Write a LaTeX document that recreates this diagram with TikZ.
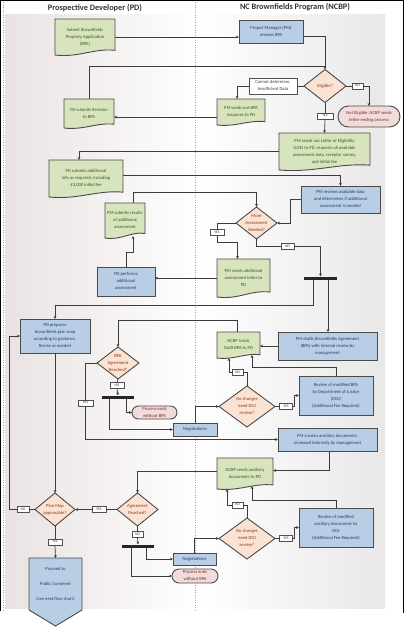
\documentclass[tikz,border=0pt]{standalone}
\usepackage{fontspec}
\setmainfont{Carlito}
\usetikzlibrary{shapes.geometric,shapes.misc,arrows.meta,calc}
\pgfdeclarelayer{bglayer}
\pgfdeclarelayer{shplayer}
\pgfsetlayers{bglayer,shplayer,main}
\definecolor{bordc}{HTML}{4A4A4A}
\definecolor{connc}{HTML}{3C3C3C}
\definecolor{greenf}{HTML}{D7E4BD}
\definecolor{bluef}{HTML}{B9CDE5}
\definecolor{peachf}{HTML}{FBE3D3}
\definecolor{pinkf}{HTML}{F2DCDB}
\definecolor{greent}{HTML}{3A5A1C}
\definecolor{bluet}{HTML}{1F3F6F}
\definecolor{diamt}{HTML}{8A3A1A}
\definecolor{pinkt}{HTML}{7A2A2A}
\definecolor{lblc}{HTML}{505050}
\definecolor{lanel}{HTML}{EAE2E2}
\definecolor{laner}{HTML}{E8E8E8}
\newcommand{\zt}[1]{\makebox[0pt]{\raisebox{-1pt}[0pt][0pt]{\begin{tabular}{@{}c@{}}#1\end{tabular}}}}
\tikzset{
 base/.style={inner sep=0pt, outer sep=0pt, font=\fontsize{4.6}{7}\selectfont},
 bluebox/.style={base, rectangle, draw=bordc, line width=0.9pt, fill=bluef, text=bluet},
 docbox/.style={base, rectangle, text=greent},
 diam/.style={base, diamond, draw=bordc, line width=0.9pt, fill=peachf, text=diamt},
 endbox/.style={base, rounded rectangle, draw=bordc, line width=0.9pt, fill=pinkf, text=pinkt},
 lbl/.style={base, rectangle, draw=lblc, line width=0.5pt, fill=white, text=black!75, font=\fontsize{3.8}{4}\selectfont},
 syncbar/.style={rectangle, fill=black!85, inner sep=0pt, outer sep=0pt, minimum height=3pt},
 conn/.style={draw=connc, line width=0.7pt},
 arr/.style={conn, -{Stealth[length=3pt,width=2.8pt]}},
 docshape/.style={draw=bordc, line width=0.9pt, fill=greenf},
 hdr/.style={inner sep=0pt, font=\bfseries\fontsize{8.3}{10}\selectfont, text=black!80},
}
\newcommand{\docshp}[1]{%
 \path[docshape] let \p1=(#1.south west), \p2=(#1.north east), \n1={\x2-\x1}, \n2={0.13*(\y2-\y1)} in
 (\x1,\y2) -- (\x2,\y2) -- (\x2,\y1+\n2) .. controls (\x2-0.35*\n1,\y1+1.5*\n2) and (\x1+0.4*\n1,\y1-0.6*\n2) .. (\x1,\y1) -- cycle;}
\begin{document}
\begin{tikzpicture}[x=1pt,y=-1pt]
\useasboundingbox (0,0) rectangle (406,627);
\begin{pgfonlayer}{bglayer}
\fill[white] (0,0) rectangle (406,627);
\shade[left color=lanel, right color=white!97!lanel] (5,14) rectangle (195,608);
\shade[left color=white, right color=laner] (195,14) rectangle (385,608);
\draw[gray!70, line width=0.6pt, dash pattern=on 1pt off 1.5pt] (3,2) -- (3,610);
\draw[gray!70, line width=0.6pt, dash pattern=on 1pt off 1.5pt] (195,2) -- (195,610);
\draw[black, line width=1pt] (0.5,611) -- (0.5,0.5) -- (403.5,0.5) -- (403.5,613);
\end{pgfonlayer}

\node[hdr] (hpd) at (95,8) {Prospective Developer (PD)};
\node[hdr] (hncbp) at (295,7.5) {NC Brownfields Program (NCBP)};

% nodes
\node[docbox, minimum width=60pt, minimum height=36pt] (submit) at (85,37) {\zt{Submit Brownfields\\Property Application\\(BPA)}};
\node[bluebox, minimum width=64pt, minimum height=23pt] (pmrev) at (271,31.5) {\zt{Project Manager (PM)\\reviews BPA}};
\node[diam, minimum width=42pt, minimum height=33pt] (elig) at (325,86) {\zt{Eligible?}};
\node[lbl, minimum width=48pt, minimum height=16pt, font=\fontsize{4.6}{7}\selectfont] (cannot) at (273,86) {\zt{Cannot determine,\\Insufficient Data}};
\node[docbox, minimum width=48pt, minimum height=26pt] (bparesp) at (241,112) {\zt{PM sends out BPA\\response to PD}};
\node[docbox, minimum width=50pt, minimum height=29pt] (revision) at (89,113.5) {\zt{PD submits Revision\\to BPA}};
\node[lbl, minimum width=11pt, minimum height=6pt] (noelig) at (357.5,86) {\zt{NO}};
\node[endbox, minimum width=62pt, minimum height=21pt] (notelig) at (369,116.5) {\zt{Not Eligible, NCBP sends\\letter ending process}};
\node[lbl, minimum width=16pt, minimum height=6pt] (yeselig) at (325,116) {\zt{YES}};
\node[docbox, minimum width=91pt, minimum height=37pt] (loe) at (324.5,151.5) {\zt{PM sends out Letter of Eligibility\\(LOE) to PD, requests all available\\assessment data, receptor survey,\\and initial fee}};
\node[docbox, minimum width=74pt, minimum height=37pt] (pdadd) at (86,178.5) {\zt{PD submits additional\\info as required, including\\\$3,000 initial fee}};
\node[bluebox, minimum width=79pt, minimum height=27pt] (pmavail) at (340.5,199.5) {\zt{PM reviews available data\\and determines if additional\\assessment is needed}};
\node[diam, minimum width=41pt, minimum height=32pt] (more) at (256.5,223) {\zt{More\\Assessment\\Needed?}};
\node[docbox, minimum width=40pt, minimum height=35pt] (pmres) at (125,220.5) {\zt{PM submits results\\of additional\\assessment}};
\node[lbl, minimum width=14pt, minimum height=6pt] (yesmore) at (217,232.5) {\zt{YES}};
\node[docbox, minimum width=53pt, minimum height=38pt] (addlet) at (243.5,278) {\zt{PM sends additional\\assessment letter to\\PD}};
\node[bluebox, minimum width=58pt, minimum height=29pt] (pdperf) at (126,281.5) {\zt{PD performs\\additional\\assessment}};
\node[lbl, minimum width=13pt, minimum height=6pt] (nomore) at (287.5,246.5) {\zt{NO}};
\node[syncbar, minimum width=33pt] (bar1) at (320.5,278) {};
\node[bluebox, minimum width=70pt, minimum height=34pt] (pdprep) at (55,336) {\zt{PD prepares\\brownfields plan map\\according to guidance.\\Revise as needed}};
\node[bluebox, minimum width=99pt, minimum height=28pt] (pmdraft) at (327.5,346) {\zt{PM drafts Brownfields Agreement\\(BPA) with internal review by\\management}};
\node[docbox, minimum width=43pt, minimum height=26pt] (draftbpa) at (238.5,345) {\zt{NCBP sends\\Draft BPA to PD}};
\node[diam, minimum width=42pt, minimum height=32pt] (bpa) at (118,363) {\zt{BPA\\Agreement\\Reached?}};
\node[lbl, minimum width=14pt, minimum height=6pt] (nobpa) at (117,385.5) {\zt{NO}};
\node[syncbar, minimum width=32pt] (bar2) at (118,397) {};
\node[endbox, minimum width=45pt, minimum height=13pt] (endbpa) at (154.5,412.5) {\zt{Process ends\\without BPA}};
\node[bluebox, minimum width=44pt, minimum height=13pt] (nego1) at (195,429.5) {\zt{Negotiations}};
\node[diam, minimum width=56pt, minimum height=41pt] (doj1) at (247,406.5) {\zt{Do changes\\need DOJ\\review?}};
\node[lbl, minimum width=13pt, minimum height=6pt] (yesdoj1) at (286,406.5) {\zt{YES}};
\node[bluebox, minimum width=74pt, minimum height=39pt] (rev1) at (336,395.5) {\zt{Review of modified BPA\\by Department of Justice\\(DOJ)\\(Additional Fee Required)}};
\node[lbl, minimum width=11pt, minimum height=6pt] (nodoj1) at (237.5,372.5) {\zt{NO}};
\node[lbl, minimum width=15pt, minimum height=6pt] (yesbpa) at (85.5,403) {\zt{YES}};
\node[bluebox, minimum width=99pt, minimum height=23pt] (pmanc) at (327.5,439.5) {\zt{PM creates ancillary documents,\\reviewed internally by management}};
\node[docbox, minimum width=56pt, minimum height=31pt] (ancdoc) at (245,473.5) {\zt{NCBP sends ancillary\\documents to PD}};
\node[diam, minimum width=41pt, minimum height=33pt] (agree) at (137.5,509.5) {\zt{Agreement\\Reached?}};
\node[lbl, minimum width=14pt, minimum height=6pt] (yesagree) at (99,509.5) {\zt{YES}};
\node[diam, minimum width=40pt, minimum height=33pt] (plan) at (55,509.5) {\zt{Plan Map\\approvable?}};
\node[lbl, minimum width=12pt, minimum height=6pt] (noplan) at (23,509.5) {\zt{NO}};
\node[lbl, minimum width=14pt, minimum height=6pt] (yesplan) at (55,542) {\zt{YES}};
\node[base, rectangle, text=bluet, minimum width=53pt, minimum height=52pt] (public) at (55.5,584) {\zt{Proceed to\\[8pt]Public Comment\\[8pt](see next flow chart)}};
\node[lbl, minimum width=11pt, minimum height=6pt] (noagree) at (137.5,534.5) {\zt{NO}};
\node[syncbar, minimum width=32pt] (bar3) at (138,546) {};
\node[bluebox, minimum width=43pt, minimum height=12pt] (nego2) at (194.5,559) {\zt{Negotiations}};
\node[endbox, minimum width=46pt, minimum height=14pt] (endbpa2) at (195,576) {\zt{Process ends\\without BPA}};
\node[diam, minimum width=56pt, minimum height=41pt] (doj2) at (247,538.5) {\zt{Do changes\\need DOJ\\review?}};
\node[lbl, minimum width=11pt, minimum height=6pt] (nodoj2) at (237.5,505) {\zt{NO}};
\node[lbl, minimum width=13pt, minimum height=6pt] (yesdoj2) at (286,538.5) {\zt{YES}};
\node[bluebox, minimum width=74pt, minimum height=39pt] (rev2) at (336,527.5) {\zt{Review of modified\\ancillary documents by\\DOJ\\(Additional Fee Required)}};

% document and off-page shapes
\begin{pgfonlayer}{shplayer}
\docshp{submit}
\docshp{revision}
\docshp{bparesp}
\docshp{loe}
\docshp{pdadd}
\docshp{pmres}
\docshp{addlet}
\docshp{draftbpa}
\docshp{ancdoc}
\path[draw=bordc, line width=0.9pt, fill=bluef] (public.north west) -- (public.north east) -- (public.south east) -- ($(public.south)+(0,16)$) -- (public.south west) -- cycle;
\end{pgfonlayer}

% connectors
\draw[arr] (submit.east) -- (submit.east -| pmrev.west);
\draw[arr] ([yshift=-5pt]pmrev.east) -| (elig.north);
\coordinate (j1) at ($(elig.north)+(0,-3)$);
\draw[conn] (revision.north) |- (j1);
\draw[conn] (elig.west) -- (cannot.east);
\draw[arr] (cannot.west) -| ([xshift=-4pt]bparesp.north);
\draw[arr] ([yshift=-5pt]bparesp.west) -- ([yshift=-5pt]bparesp.west -| revision.east);
\draw[conn] (elig.east) -- (noelig.west);
\draw[arr] (noelig.east) -| (notelig.north);
\draw[conn] (elig.south) -- (yeselig.north);
\draw[arr] (yeselig.south) -- (loe.north);
\draw[arr] (loe.west) -| ([xshift=-7pt]pdadd.north);
\draw[arr] ([yshift=3pt]pdadd.east) -| (pmavail.north);
\draw[arr] (pmavail.west) -- ++(-11,0) |- (more.east);
\draw[arr] ([xshift=8pt]pmres.north) -- ++(0,-11) -| (more.north);
\draw[conn] (more.west) -| (yesmore.north);
\draw[arr] (yesmore.south) -- ++(0,7) -| ([xshift=-6pt]addlet.north);
\draw[arr] (addlet.west) -- (addlet.west -| pdperf.east);
\draw[arr] (pdperf.north) -- ++(0,-15) -| ($(pmres.south)+(8,-2)$);
\draw[conn] (more.south) |- (nomore.west);
\draw[arr] (nomore.east) -| (bar1.north);
\draw[arr] ([xshift=-7.5pt]bar1.south) -- ++(0,26) -| (pdprep.north);
\draw[arr] ([xshift=7.5pt]bar1.south) -- ([xshift=7.5pt]bar1.south |- pmdraft.north);
\draw[arr] (pmdraft.west) -- (pmdraft.west -| draftbpa.east);
\draw[arr] ([xshift=-1.5pt]draftbpa.north) -- ++(0,-12) -| (bpa.north);
\draw[conn] (bpa.south) -- (nobpa.north);
\draw[arr] (nobpa.south) -- (bar2.north);
\draw[arr] ([xshift=8pt]bar2.south) |- (endbpa.west);
\draw[arr] ([xshift=-9pt]bar2.south) |- (nego1.west);
\draw[arr] (nego1.north) |- (doj1.west);
\draw[conn] (doj1.east) -- (yesdoj1.west);
\draw[arr] (yesdoj1.east) -- ++(2,0) |- (rev1.west);
\draw[arr] (rev1.north) -- ++(0,-9) -| ($(draftbpa.south)+(13.5,-3)$);
\draw[conn] (doj1.north) |- (nodoj1.east);
\draw[arr] (nodoj1.west) -| ($(draftbpa.south)+(-9.5,0)$);
\draw[conn] (bpa.west) -| (yesbpa.north);
\draw[arr] (yesbpa.south) |- (pmanc.west);
\draw[arr] (pdprep.south) -- (plan.north);
\draw[conn] (plan.west) -- (noplan.east);
\draw[arr] (noplan.west) -- ++(-8,0) |- (pdprep.west);
\draw[arr] ([xshift=2pt]pmanc.south) |- ([yshift=3pt]ancdoc.east);
\draw[arr] ([yshift=2pt]ancdoc.west) -| (agree.north);
\draw[conn] (agree.west) -- (yesagree.east);
\draw[arr] (yesagree.west) -- (plan.east);
\draw[conn] (plan.south) -- (yesplan.north);
\draw[arr] (yesplan.south) -- (public.north);
\draw[conn] (agree.south) -- (noagree.north);
\draw[arr] (noagree.south) -- (bar3.north);
\draw[arr] ([xshift=8pt]bar3.south) |- (nego2.west);
\draw[arr] ([xshift=-7pt]bar3.south) |- (endbpa2.west);
\draw[arr] (nego2.north) |- (doj2.west);
\draw[conn] (doj2.north) |- (nodoj2.east);
\draw[arr] (nodoj2.west) -| ($(ancdoc.south)+(-18,0)$);
\draw[conn] (doj2.east) -- (yesdoj2.west);
\draw[arr] (yesdoj2.east) -- ++(2,0) |- (rev2.west);
\draw[arr] (rev2.north) -- ++(0,-8) -| ($(ancdoc.south)+(7,-3)$);
\end{tikzpicture}
\end{document}
